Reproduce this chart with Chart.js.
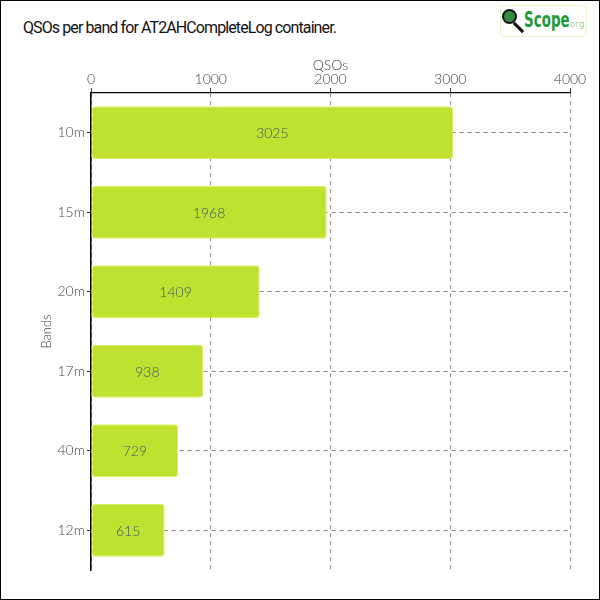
<!DOCTYPE html>
<html>
<head>
<meta charset="utf-8">
<script src="https://cdn.jsdelivr.net/npm/chart.js@4/dist/chart.umd.min.js"></script>
<style>
  html, body { margin: 0; padding: 0; background: #fff; }
  #frame {
    position: relative; width: 600px; height: 600px;
    box-sizing: border-box; border: 1px solid #000; overflow: hidden;
  }
  #title {
    position: absolute; left: 22px; top: 17px;
    font-family: Roboto, sans-serif; font-size: 16px; color: #111;
    letter-spacing: -0.9px;
  }
  #logo {
    position: absolute; left: 499px; top: 4px; width: 87px; height: 32px;
    box-sizing: border-box; border: 1px solid #eef3c8; border-radius: 4px;
  }
  #logo .lens {
    position: absolute; left: 1px; top: 3px; width: 11px; height: 11px;
    border-radius: 50%; background: #2e8b45; border: 2px solid #111;
  }
  #logo .handle {
    position: absolute; left: 11px; top: 20px; width: 13px; height: 3px;
    background: #111; transform: rotate(45deg);
  }
  #logo .word {
    position: absolute; left: 23px; top: 1px; font-size: 22px; font-weight: bold;
    font-family: "DejaVu Sans Condensed", sans-serif;
    color: #1e9a3a; transform: scaleX(0.68); transform-origin: 0 0;
  }
  #logo .org {
    position: absolute; left: 66px; top: 13px; font-size: 9px; color: #a9d18a;
    font-family: "DejaVu Sans", sans-serif;
  }
  canvas { position: absolute; left: 0; top: 0; }
</style>
</head>
<body>
<div id="frame">
  <div id="title">QSOs per band for AT2AHCompleteLog container.</div>
  <div id="logo"><div class="lens"></div><div class="handle"></div><div class="word">Scope</div><div class="org">.org</div></div>
  <canvas id="chart" width="598" height="598"></canvas>
</div>
<script>
const bands = ['10m', '15m', '20m', '17m', '40m', '12m'];
const qsos = [3025, 1968, 1409, 938, 729, 615];
const xMax = 4000;
const xStep = 1000;

const tickFont = { family: 'Lato, "Open Sans", sans-serif', size: 14, weight: '300' };

// draws the count in the middle of each bar
const barValueLabels = {
  id: 'barValueLabels',
  afterDatasetsDraw(chart) {
    const ctx = chart.ctx;
    const meta = chart.getDatasetMeta(0);
    ctx.save();
    ctx.fillStyle = '#3f5666';
    ctx.font = '300 14px Lato, "Open Sans", sans-serif';
    ctx.textAlign = 'center';
    ctx.textBaseline = 'middle';
    meta.data.forEach((bar, i) => {
      const cx = (bar.x + bar.base) / 2;
      ctx.fillText(String(qsos[i]), cx, bar.y + 1);
    });
    ctx.restore();
  }
};

new Chart(document.getElementById('chart'), {
  type: 'bar',
  data: {
    labels: bands,
    datasets: [{
      label: 'QSOs',
      data: qsos,
      backgroundColor: '#bde22f',
      borderColor: '#dcf25a',
      borderWidth: 1,
      borderSkipped: false,
      borderRadius: 4,
      barPercentage: 0.74,
      categoryPercentage: 0.9
    }]
  },
  options: {
    indexAxis: 'y',
    responsive: false,
    animation: false,
    layout: { padding: { left: 0, top: 40, right: 29, bottom: 29 } },
    plugins: {
      legend: { display: false },
      tooltip: { enabled: false }
    },
    scales: {
      x: {
        position: 'top',
        min: 0,
        max: xMax,
        afterFit(scale) { scale.height = 52; },
        ticks: {
          stepSize: xStep, color: '#444', font: tickFont, padding: 0,
          callback: (v) => String(v)
        },
        title: { display: true, text: 'QSOs', color: '#444', font: tickFont, padding: { top: 16, bottom: 0 } },
        grid: {
          color: '#888',
          tickBorderDash: [],
          tickLength: 5,
          tickColor: '#444'
        },
        border: { display: true, color: '#000', width: 1.2, dash: [4, 4] }
      },
      y: {
        afterFit(scale) { scale.width = 90; },
        ticks: { color: '#444', font: tickFont, padding: 2 },
        title: { display: true, text: 'Bands', color: '#444', font: { ...tickFont, size: 13 }, padding: { top: 38, bottom: 0 } },
        grid: {
          offset: false,
          color: '#888',
          tickBorderDash: [],
          tickLength: 4,
          tickColor: '#222'
        },
        border: { display: true, color: '#000', width: 1.5, dash: [4, 4] }
      }
    }
  },
  plugins: [barValueLabels]
});
</script>
</body>
</html>
